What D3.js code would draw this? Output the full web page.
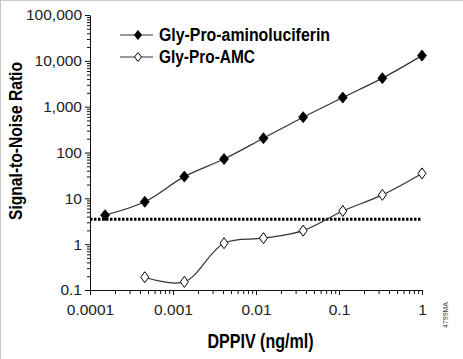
<!DOCTYPE html>
<html><head><meta charset="utf-8">
<script src="https://cdn.jsdelivr.net/npm/d3@7/dist/d3.min.js"></script>
<style>
html,body{margin:0;padding:0;background:#fff;}
svg{display:block;}
</style></head>
<body>
<script>
// ---- data ----
const doseLuc = [0.000152, 0.000457, 0.00137, 0.00412, 0.0123, 0.037, 0.111, 0.333, 1];
const valuesLuc = [4.3, 8.4, 29.8, 72, 205, 590, 1580, 4190, 13000];
const doseAMC = [0.000457, 0.00137, 0.00412, 0.0123, 0.037, 0.111, 0.333, 1];
const valuesAMC = [0.19, 0.15, 1.05, 1.35, 1.97, 5.3, 11.9, 35];
const seriesNames = ["Gly-Pro-aminoluciferin", "Gly-Pro-AMC"];
const thresholdValue = 3.5;
const xTickValues = [0.0001, 0.001, 0.01, 0.1, 1];
const xTickLabels = ["0.0001", "0.001", "0.01", "0.1", "1"];
const yTickValues = [0.1, 1, 10, 100, 1000, 10000, 100000];
const yTickLabels = ["0.1", "1", "10", "100", "1,000", "10,000", "100,000"];
const xTitle = "DPPIV (ng/ml)";
const yTitle = "Signal-to-Noise Ratio";
const figCode = "4799MA";

const W = 463, H = 359;
const svg = d3.select("body").append("svg").attr("width", W).attr("height", H);
const narrow = "'Liberation Sans Narrow','Arial Narrow','Liberation Sans',Arial,sans-serif";
const regular = "'Liberation Sans',Arial,Helvetica,sans-serif";

// frame (top/left light border)
svg.append("line").attr("x1",0).attr("x2",W).attr("y1",0.5).attr("y2",0.5).attr("stroke","#c8c8c8");
svg.append("line").attr("x1",0.5).attr("x2",0.5).attr("y1",0).attr("y2",H).attr("stroke","#c8c8c8");

const x = d3.scaleLog().domain([0.0001, 1]).range([90, 422]);
const y = d3.scaleLog().domain([0.1, 100000]).range([290, 15]);

// minor tick values
const minorX = [], minorY = [];
for (let e = -4; e < 0; e++) for (let m = 2; m <= 9; m++) minorX.push(m * Math.pow(10, e));
for (let e = -1; e < 5; e++) for (let m = 2; m <= 9; m++) minorY.push(m * Math.pow(10, e));

// x axis
const gx = svg.append("g").attr("transform", `translate(0,${y(0.1)})`);
gx.call(d3.axisBottom(x).tickValues(minorX).tickSize(4).tickFormat(""));
gx.call(g => g.select(".domain").remove());
const gx2 = svg.append("g").attr("transform", `translate(0,${y(0.1)})`);
gx2.call(d3.axisBottom(x).tickValues(xTickValues).tickSizeInner(5).tickSizeOuter(0).tickPadding(9)
  .tickFormat((d,i) => xTickLabels[i]));
gx2.selectAll("text").attr("font-family", regular).attr("font-size", 15.5).attr("fill", "#222");

// y axis
const gy = svg.append("g").attr("transform", `translate(${x(0.0001)},0)`);
gy.call(d3.axisLeft(y).tickValues(minorY).tickSize(3).tickFormat(""));
gy.call(g => g.select(".domain").remove());
const gy2 = svg.append("g").attr("transform", `translate(${x(0.0001)},0)`);
gy2.call(d3.axisLeft(y).tickValues(yTickValues).tickSizeInner(5).tickSizeOuter(0).tickPadding(3)
  .tickFormat((d,i) => yTickLabels[i]));
gy2.selectAll("text").attr("font-family", regular).attr("font-size", 15.5).attr("fill", "#222");
svg.selectAll(".tick line").attr("stroke", "#111");
svg.selectAll(".domain").attr("stroke", "#111");

// threshold dotted line
svg.append("line")
  .attr("x1", x(0.0001)).attr("x2", x(1))
  .attr("y1", y(thresholdValue)).attr("y2", y(thresholdValue))
  .attr("stroke", "#000").attr("stroke-width", 3).attr("stroke-dasharray", "2.5 1.5");

// lines
const line = d3.line().curve(d3.curveCatmullRom.alpha(0.5));
const ptsLuc = doseLuc.map((d,i) => [x(d), y(valuesLuc[i])]);
const ptsAMC = doseAMC.map((d,i) => [x(d), y(valuesAMC[i])]);
svg.append("path").attr("d", line(ptsLuc)).attr("fill","none").attr("stroke","#333").attr("stroke-width",1.2);
svg.append("path").attr("d", line(ptsAMC)).attr("fill","none").attr("stroke","#333").attr("stroke-width",1.2);

function diamond(w, h) {
  return `M0,${-h/2}L${w/2},0L0,${h/2}L${-w/2},0Z`;
}
svg.append("g").selectAll("path").data(ptsLuc).join("path")
  .attr("d", diamond(9, 11)).attr("transform", d => `translate(${d[0]},${d[1]})`)
  .attr("fill", "#000").attr("stroke", "#000").attr("stroke-width", 0.8);
svg.append("g").selectAll("path").data(ptsAMC).join("path")
  .attr("d", diamond(8, 11)).attr("transform", d => `translate(${d[0]},${d[1]})`)
  .attr("fill", "#fff").attr("stroke", "#000").attr("stroke-width", 1);

// legend
const legend = svg.append("g");
[[35, "#000"], [57, "#fff"]].forEach((r, i) => {
  legend.append("line").attr("x1", 120).attr("x2", 153).attr("y1", r[0]).attr("y2", r[0])
    .attr("stroke", "#333").attr("stroke-width", 1.2);
  legend.append("path").attr("d", diamond(7, 9)).attr("transform", `translate(138,${r[0]})`)
    .attr("fill", r[1]).attr("stroke", "#000").attr("stroke-width", 1);
  const t = legend.append("text").attr("x", 159).attr("y", r[0] + 6)
    .attr("font-family", narrow).attr("font-weight", "bold").attr("font-size", 17.5)
    .attr("fill", "#000").text(seriesNames[i]);
  t.attr("textLength", i === 0 ? 171 : 96).attr("lengthAdjust", "spacingAndGlyphs");
});

// axis titles
svg.append("text").attr("x", 260.5).attr("y", 348).attr("text-anchor", "middle")
  .attr("font-family", narrow).attr("font-weight", "bold").attr("font-size", 19.5)
  .attr("textLength", 106).attr("lengthAdjust", "spacingAndGlyphs").text(xTitle);
svg.append("text").attr("transform", "translate(22,141) rotate(-90)").attr("text-anchor", "middle")
  .attr("font-family", narrow).attr("font-weight", "bold").attr("font-size", 17.5)
  .attr("textLength", 158).attr("lengthAdjust", "spacingAndGlyphs").text(yTitle);

svg.append("text").attr("transform", "translate(448,315) rotate(-90)").attr("text-anchor", "middle")
  .attr("font-family", regular).attr("font-size", 7).attr("fill", "#444").text(figCode);
</script>
</body></html>
